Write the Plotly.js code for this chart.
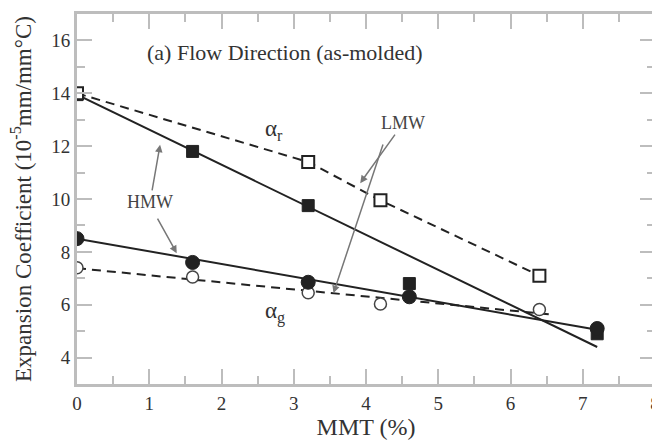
<!DOCTYPE html>
<html>
<head>
<meta charset="utf-8">
<script src="https://cdn.plot.ly/plotly-3.0.1.min.js"></script>
<style>
html,body{margin:0;padding:0;overflow:hidden;background:#fff;}
#chart{width:660px;height:440px;}
</style>
</head>
<body>
<div id="chart"></div>
<script>
// ---- data ----
const hmwX = [0, 1.6, 3.2, 4.6, 7.2];
const hmwAlphaR = [13.95, 11.8, 9.75, 6.8, 4.9];
const hmwAlphaG = [8.5, 7.6, 6.85, 6.3, 5.1];

const lmwXr = [0, 3.2, 4.2, 6.4];
const lmwAlphaR = [14.0, 11.4, 9.95, 7.1];
const lmwXg = [0, 1.6, 3.2, 4.2, 6.4];
const lmwAlphaG = [7.4, 7.05, 6.45, 6.03, 5.82];

// straight-line fits drawn in the figure
const hmwFitX = [0, 7.2];
const hmwAlphaRFit = [13.95, 4.4];
const hmwAlphaGFit = [8.5, 5.05];
const lmwFitXg = [0, 6.6];
const lmwAlphaGFit = [7.38, 5.62];

const xTicks = [0, 1, 2, 3, 4, 5, 6, 7, 8];
const yTicks = [4, 6, 8, 10, 12, 14, 16];

const FONT = 'Liberation Serif, Times New Roman, serif';
const INK = '#222';
const AX = '#bdbdbd';

const traces = [
  {x: hmwFitX, y: hmwAlphaRFit, mode: 'lines', line: {color: INK, width: 2}, hoverinfo: 'skip'},
  {x: hmwFitX, y: hmwAlphaGFit, mode: 'lines', line: {color: INK, width: 2}, hoverinfo: 'skip'},
  {x: lmwXr, y: lmwAlphaR, mode: 'lines', line: {color: INK, width: 2, dash: '9px,6px'}, hoverinfo: 'skip'},
  {x: lmwFitXg, y: lmwAlphaGFit, mode: 'lines', line: {color: INK, width: 2, dash: '9px,6px'}, hoverinfo: 'skip'},
  {x: hmwX, y: hmwAlphaR, mode: 'markers', name: 'HMW αr',
   marker: {symbol: 'square', size: 12, color: INK, line: {color: INK, width: 1}}},
  {x: lmwXr, y: lmwAlphaR, mode: 'markers', name: 'LMW αr',
   marker: {symbol: 'square', size: 12, color: '#fff', line: {color: INK, width: 2}}},
  {x: lmwXg, y: lmwAlphaG, mode: 'markers', name: 'LMW αg',
   marker: {symbol: 'circle', size: 12, color: '#fff', line: {color: '#444', width: 1.5}}},
  {x: hmwX, y: hmwAlphaG, mode: 'markers', name: 'HMW αg',
   marker: {symbol: 'circle', size: 14, color: INK, line: {color: INK, width: 1}}}
];

const axisCommon = {
  ticks: 'inside', ticklen: 15, tickwidth: 2, tickcolor: AX,
  showline: true, linecolor: AX, linewidth: 3, mirror: 'ticks',
  showgrid: false, zeroline: false,
  tickfont: {family: FONT, size: 19, color: '#333'}
};

const layout = {
  width: 660, height: 440,
  margin: {l: 77, r: 5, t: 14, b: 56},
  paper_bgcolor: '#fff', plot_bgcolor: '#fff',
  showlegend: false,
  font: {family: FONT, color: INK},
  xaxis: Object.assign({}, axisCommon, {
    range: [0, 8], tickvals: xTicks, ticktext: xTicks.map(String),
    minor: {ticks: 'inside', ticklen: 8, tickwidth: 2, tickcolor: AX, dtick: 0.5, tick0: 0, showgrid: false},
    title: {text: 'MMT (%)', font: {family: FONT, size: 24, color: '#333'}, standoff: 0}
  }),
  yaxis: Object.assign({}, axisCommon, {
    range: [3, 17], tickvals: yTicks, ticktext: yTicks.map(String),
    minor: {ticks: 'inside', ticklen: 8, tickwidth: 2, tickcolor: AX, dtick: 1, tick0: 0, showgrid: false},
    title: {text: 'Expansion Coefficient (10<sup>-5</sup>mm/mm°C)', font: {family: FONT, size: 23, color: '#333'}, standoff: 14}
  }),
  annotations: [
    {x: 2.88, y: 15.55, xanchor: 'center', yanchor: 'middle',
     text: '(a) Flow Direction (as-molded)', showarrow: false, font: {family: FONT, size: 22, color: '#333'}},
    {x: 2.72, y: 12.6, text: 'α<sub>r</sub>', showarrow: false, font: {family: FONT, size: 23, color: '#333'}},
    {x: 2.74, y: 5.72, text: 'α<sub>g</sub>', showarrow: false, font: {family: FONT, size: 23, color: '#333'}},
    {x: 3.92, y: 10.6, ax: 43, ay: -60, text: 'LMW', showarrow: true, arrowhead: 2, arrowsize: 1, arrowwidth: 1.5,
     arrowcolor: '#777', font: {family: FONT, size: 18, color: '#444'}},
    {x: 3.55, y: 6.44, ax: 50, ay: -150, text: '', showarrow: true, arrowhead: 2, arrowsize: 1, arrowwidth: 1.5,
     arrowcolor: '#777'},
    {x: 1.15, y: 12.05, ax: -10, ay: 57, text: 'HMW', showarrow: true, arrowhead: 2, arrowsize: 1, arrowwidth: 1.5,
     arrowcolor: '#777', font: {family: FONT, size: 18, color: '#444'}},
    {x: 1.38, y: 7.95, ax: -20, ay: -36, text: '', showarrow: true, arrowhead: 2, arrowsize: 1, arrowwidth: 1.5,
     arrowcolor: '#777'}
  ]
};

Plotly.newPlot('chart', traces, layout, {displayModeBar: false, staticPlot: true});
</script>
</body>
</html>
